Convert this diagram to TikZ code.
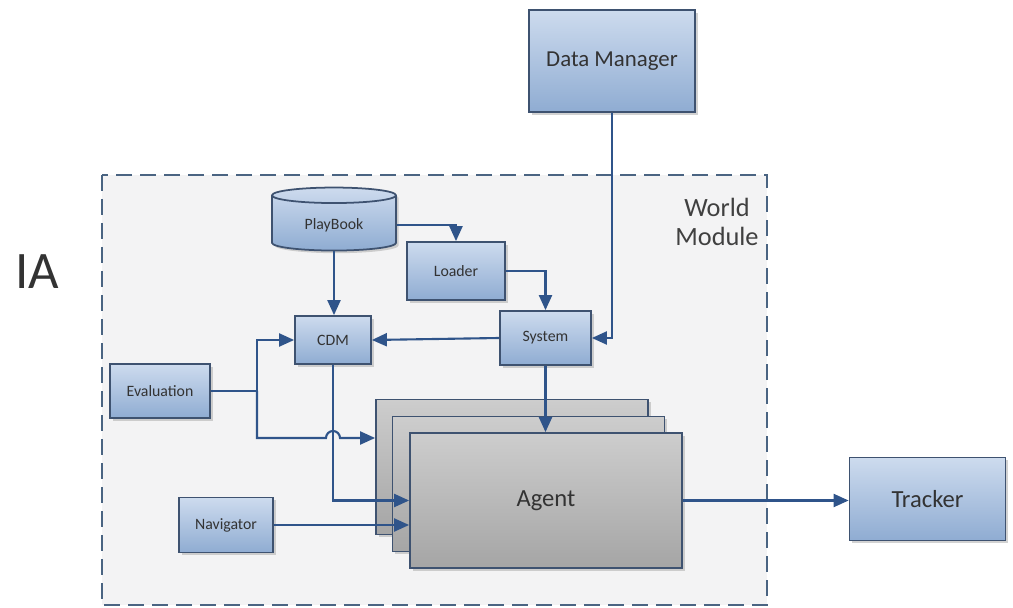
\documentclass[tikz,border=0pt]{standalone}
\usepackage{fontspec}
\setmainfont{Carlito}
\usepackage{tikz}
\usetikzlibrary{arrows.meta,shapes,positioning,shadows,calc}
\definecolor{iablue}{RGB}{47,84,138}
\definecolor{iaborder}{RGB}{62,82,112}
\definecolor{iaboxtop}{RGB}{205,219,238}
\definecolor{iaboxbot}{RGB}{143,172,210}
\definecolor{iagraytop}{RGB}{205,205,205}
\definecolor{iagraybot}{RGB}{165,165,165}
\definecolor{iaworld}{RGB}{243,243,244}
\definecolor{iadash}{RGB}{74,100,130}
\tikzstyle{arrow} = [line width=1.2pt,-{Triangle[length=3mm,width=2.6mm]},color=iablue]
\tikzstyle{link} = [line width=1.2pt,color=iablue]
\tikzstyle{blockbox} = [rectangle, text centered, draw=iaborder, line width=1pt, top color=iaboxtop, bottom color=iaboxbot, drop shadow={shadow xshift=1.5pt, shadow yshift=-1.5pt, fill=black!35}, font=\fontsize{9}{10}\selectfont, text=black!80]
\tikzstyle{agentbox} = [rectangle, draw=iaborder, line width=1pt, top color=iagraytop, bottom color=iagraybot, drop shadow={shadow xshift=1.5pt, shadow yshift=-1.5pt, fill=black!35}, minimum width=5.44cm, minimum height=2.7cm]

\begin{document}
\begin{tikzpicture}
\useasboundingbox (0,0) rectangle (20.26,-12.16);

% world module frame
\draw[iadash, fill=iaworld, line width=1.3pt, dash pattern=on 0.32cm off 0.16cm] (2.04,-3.5) rectangle (15.34,-12.1);
\node[font=\fontsize{15}{17}\selectfont, text=black!75, align=center] (world) at (14.34,-4.44) {World\\Module};
\node[font=\fontsize{30}{32}\selectfont, text=black!80] (ia) at (0.74,-5.44) {IA};

% outside
\node[blockbox, minimum width=3.32cm, minimum height=2.04cm, font=\fontsize{13}{15}\selectfont] (dm) at (12.24,-1.22) {Data Manager};
\node[blockbox, minimum width=3.12cm, minimum height=1.66cm, font=\fontsize{14}{16}\selectfont] (tracker) at (18.55,-9.98) {Tracker};

% inside
\node[blockbox, cylinder, shape border rotate=90, aspect=0.22, minimum width=2.48cm, minimum height=1.26cm] (pb) at (6.68,-4.5) {PlayBook};
\node[blockbox, minimum width=1.96cm, minimum height=1.16cm] (loader) at (9.12,-5.42) {Loader};
\node[blockbox, minimum width=1.52cm, minimum height=0.96cm] (cdm) at (6.66,-6.8) {CDM};
\node[blockbox, minimum width=1.82cm, minimum height=1.08cm] (sys) at (10.91,-6.76) {System};
\node[blockbox, minimum width=2.0cm, minimum height=1.08cm] (eval) at (3.2,-7.82) {Evaluation};
\node[blockbox, minimum width=1.88cm, minimum height=1.1cm] (nav) at (4.52,-10.5) {Navigator};

% agent stack
\node[agentbox] (agentA) at (10.24,-9.34) {};
\node[agentbox] (agentB) at (10.57,-9.68) {};
\node[agentbox, font=\fontsize{14}{16}\selectfont, text=black!80] (agentC) at (10.92,-10.01) {Agent};

% arrows
\coordinate (split) at (5.14,-7.82);
\coordinate (low) at (5.14,-8.76);
\draw[arrow] (dm.south) |- (sys.east);
\draw[arrow] (pb.east) -| (loader.north);
\draw[arrow] (loader.east) -| (sys.north);
\draw[arrow] (pb.south) -- (pb.south |- cdm.north);
\draw[arrow] (sys.west) -- (cdm.east);
\draw[link] (eval.east) -- (split);
\draw[arrow] (split) |- (cdm.west);
\draw[arrow] (split) |- ([xshift=-0.14cm]cdm.south |- low) arc[start angle=180, end angle=0, radius=0.14cm] -- (low -| agentA.west);
\draw[arrow] (cdm.south) |- (agentC.west);
\draw[arrow] (nav.east) -- (nav.east -| agentC.west);
\draw[arrow] (sys.south) -- (sys.south |- agentC.north);
\draw[arrow] (agentC.east) -- (agentC.east -| tracker.west);
\end{tikzpicture}
\end{document}
